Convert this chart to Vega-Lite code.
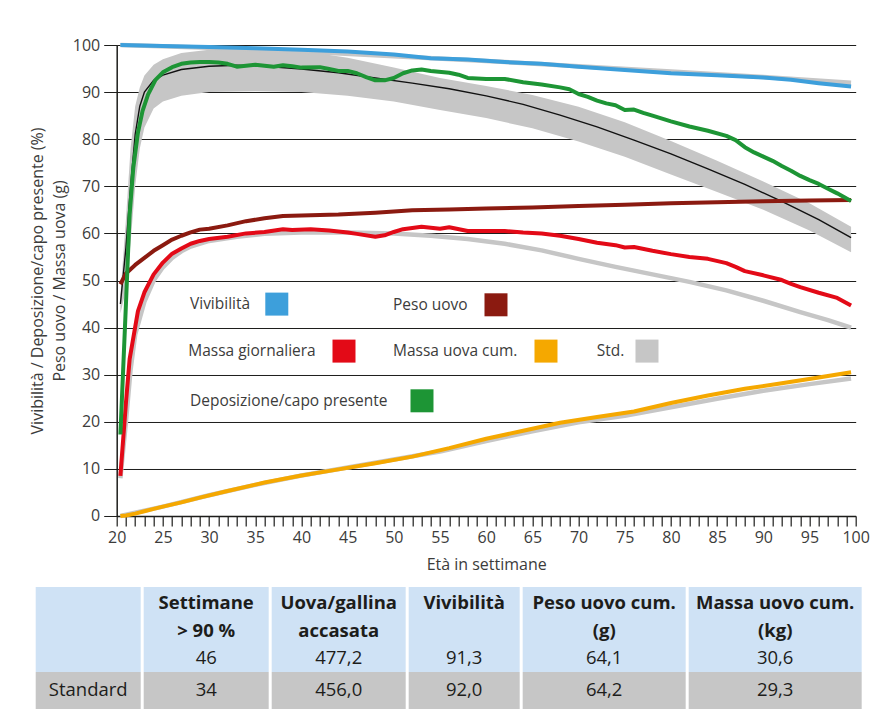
{
  "$schema": "https://vega.github.io/schema/vega-lite/v6.json",
  "background": "white",
  "padding": {"top": 37, "left": 28.7, "right": 5, "bottom": 5},
  "spacing": 14,
  "config": {
    "font": "Open Sans",
    "view": {"stroke": null},
    "axis": {"labelFont": "Open Sans", "titleFont": "Open Sans", "labelColor": "#3c3c3b", "titleColor": "#3c3c3b", "titleFontWeight": "normal", "labelFontSize": 16, "titleFontSize": 16},
    "axisX": {"grid": false, "tickSize": 10, "tickColor": "#1d1d1b", "tickWidth": 1.2, "domainColor": "#1d1d1b", "domainWidth": 1.5, "labelPadding": 4, "titlePadding": 11, "labelOverlap": false, "labelFlush": false, "labelBound": false, "tickCount": 100},
    "axisY": {"grid": true, "gridColor": "#1d1d1b", "gridWidth": 1, "tickSize": 13, "tickColor": "#1d1d1b", "domainColor": "#1d1d1b", "domainWidth": 1.5, "labelPadding": 4, "titlePadding": 5, "titleLineHeight": 22, "tickCount": 20, "labelOverlap": false},
    "legend": {"symbolType": "square", "symbolSize": 529, "symbolStrokeWidth": 0, "labelFont": "Open Sans", "labelFontSize": 15.5, "labelColor": "#3c3c3b", "labelLimit": 400, "padding": 0},
    "text": {"font": "Open Sans", "color": "#1d1d1b", "fontSize": 18.5}
  },
  "datasets": {
    "banda": [
      {"settimana": 20.4, "inferiore": 43, "superiore": 47},
      {"settimana": 21, "inferiore": 48, "superiore": 63},
      {"settimana": 21.5, "inferiore": 58, "superiore": 78},
      {"settimana": 22, "inferiore": 70, "superiore": 87},
      {"settimana": 22.5, "inferiore": 78, "superiore": 91},
      {"settimana": 23, "inferiore": 82.5, "superiore": 93.5},
      {"settimana": 24, "inferiore": 86.5, "superiore": 95.8},
      {"settimana": 25, "inferiore": 88, "superiore": 97},
      {"settimana": 27, "inferiore": 89.2, "superiore": 98.3},
      {"settimana": 30, "inferiore": 90, "superiore": 99},
      {"settimana": 35, "inferiore": 90.2, "superiore": 99.3},
      {"settimana": 40, "inferiore": 90, "superiore": 98.8},
      {"settimana": 45, "inferiore": 89.2, "superiore": 97.3},
      {"settimana": 50, "inferiore": 88, "superiore": 95.2},
      {"settimana": 55, "inferiore": 86.2, "superiore": 93},
      {"settimana": 60, "inferiore": 84.5, "superiore": 91.3},
      {"settimana": 65, "inferiore": 82.3, "superiore": 89.4},
      {"settimana": 70, "inferiore": 79.5, "superiore": 86.9},
      {"settimana": 75, "inferiore": 76.3, "superiore": 83.6},
      {"settimana": 80, "inferiore": 72.5, "superiore": 79.6},
      {"settimana": 85, "inferiore": 68.8, "superiore": 75.4},
      {"settimana": 90, "inferiore": 65, "superiore": 71},
      {"settimana": 95, "inferiore": 60.6, "superiore": 66.4},
      {"settimana": 99.5, "inferiore": 56, "superiore": 61.4}
    ],
    "serie": [
      {"serie": "Vivibilità", "settimana": 20.4, "valore": 100},
      {"serie": "Vivibilità", "settimana": 25, "valore": 99.8},
      {"serie": "Vivibilità", "settimana": 30, "valore": 99.6},
      {"serie": "Vivibilità", "settimana": 35, "valore": 99.3},
      {"serie": "Vivibilità", "settimana": 40, "valore": 99.0},
      {"serie": "Vivibilità", "settimana": 45, "valore": 98.6},
      {"serie": "Vivibilità", "settimana": 50, "valore": 98.0},
      {"serie": "Vivibilità", "settimana": 54, "valore": 97.2},
      {"serie": "Vivibilità", "settimana": 58, "valore": 96.9},
      {"serie": "Vivibilità", "settimana": 62, "valore": 96.4},
      {"serie": "Vivibilità", "settimana": 66, "valore": 96.0},
      {"serie": "Vivibilità", "settimana": 70, "valore": 95.4},
      {"serie": "Vivibilità", "settimana": 75, "valore": 94.7},
      {"serie": "Vivibilità", "settimana": 80, "valore": 94.0},
      {"serie": "Vivibilità", "settimana": 85, "valore": 93.6},
      {"serie": "Vivibilità", "settimana": 90, "valore": 93.1},
      {"serie": "Vivibilità", "settimana": 93, "valore": 92.6},
      {"serie": "Vivibilità", "settimana": 96, "valore": 91.9},
      {"serie": "Vivibilità", "settimana": 99.5, "valore": 91.2},

      {"serie": "Vivibilità std", "settimana": 20.4, "valore": 100},
      {"serie": "Vivibilità std", "settimana": 30, "valore": 99.4},
      {"serie": "Vivibilità std", "settimana": 40, "valore": 98.6},
      {"serie": "Vivibilità std", "settimana": 50, "valore": 97.6},
      {"serie": "Vivibilità std", "settimana": 60, "valore": 96.6},
      {"serie": "Vivibilità std", "settimana": 70, "valore": 95.5},
      {"serie": "Vivibilità std", "settimana": 80, "valore": 94.4},
      {"serie": "Vivibilità std", "settimana": 90, "valore": 93.2},
      {"serie": "Vivibilità std", "settimana": 99.5, "valore": 92.0},

      {"serie": "Deposizione", "settimana": 20.4, "valore": 17.3},
      {"serie": "Deposizione", "settimana": 21, "valore": 45},
      {"serie": "Deposizione", "settimana": 21.4, "valore": 64},
      {"serie": "Deposizione", "settimana": 21.8, "valore": 74},
      {"serie": "Deposizione", "settimana": 22.3, "valore": 81.4},
      {"serie": "Deposizione", "settimana": 22.8, "valore": 86},
      {"serie": "Deposizione", "settimana": 23.4, "valore": 89.5},
      {"serie": "Deposizione", "settimana": 24.2, "valore": 92.6},
      {"serie": "Deposizione", "settimana": 25, "valore": 94.2},
      {"serie": "Deposizione", "settimana": 26, "valore": 95.3},
      {"serie": "Deposizione", "settimana": 27, "valore": 96.0},
      {"serie": "Deposizione", "settimana": 28, "valore": 96.3},
      {"serie": "Deposizione", "settimana": 29, "valore": 96.4},
      {"serie": "Deposizione", "settimana": 30, "valore": 96.4},
      {"serie": "Deposizione", "settimana": 31, "valore": 96.3},
      {"serie": "Deposizione", "settimana": 32, "valore": 96.0},
      {"serie": "Deposizione", "settimana": 33, "valore": 95.4},
      {"serie": "Deposizione", "settimana": 34, "valore": 95.6},
      {"serie": "Deposizione", "settimana": 35, "valore": 95.8},
      {"serie": "Deposizione", "settimana": 36, "valore": 95.6},
      {"serie": "Deposizione", "settimana": 37, "valore": 95.4},
      {"serie": "Deposizione", "settimana": 38, "valore": 95.7},
      {"serie": "Deposizione", "settimana": 39, "valore": 95.5},
      {"serie": "Deposizione", "settimana": 40, "valore": 95.2},
      {"serie": "Deposizione", "settimana": 42, "valore": 95.3},
      {"serie": "Deposizione", "settimana": 43, "valore": 94.9},
      {"serie": "Deposizione", "settimana": 44, "valore": 94.5},
      {"serie": "Deposizione", "settimana": 45, "valore": 94.5},
      {"serie": "Deposizione", "settimana": 46, "valore": 94.0},
      {"serie": "Deposizione", "settimana": 47, "valore": 93.2},
      {"serie": "Deposizione", "settimana": 48, "valore": 92.5},
      {"serie": "Deposizione", "settimana": 49, "valore": 92.5},
      {"serie": "Deposizione", "settimana": 50, "valore": 93.0},
      {"serie": "Deposizione", "settimana": 51, "valore": 94.0},
      {"serie": "Deposizione", "settimana": 52, "valore": 94.6},
      {"serie": "Deposizione", "settimana": 53, "valore": 94.8},
      {"serie": "Deposizione", "settimana": 54, "valore": 94.5},
      {"serie": "Deposizione", "settimana": 56, "valore": 94.1},
      {"serie": "Deposizione", "settimana": 57, "valore": 93.7},
      {"serie": "Deposizione", "settimana": 58, "valore": 93.0},
      {"serie": "Deposizione", "settimana": 60, "valore": 92.8},
      {"serie": "Deposizione", "settimana": 62, "valore": 92.8},
      {"serie": "Deposizione", "settimana": 64, "valore": 92.1},
      {"serie": "Deposizione", "settimana": 66, "valore": 91.6},
      {"serie": "Deposizione", "settimana": 68, "valore": 91.0},
      {"serie": "Deposizione", "settimana": 69, "valore": 90.6},
      {"serie": "Deposizione", "settimana": 70, "valore": 89.6},
      {"serie": "Deposizione", "settimana": 71, "valore": 89.0},
      {"serie": "Deposizione", "settimana": 72, "valore": 88.2},
      {"serie": "Deposizione", "settimana": 73, "valore": 87.6},
      {"serie": "Deposizione", "settimana": 74, "valore": 87.2},
      {"serie": "Deposizione", "settimana": 75, "valore": 86.2},
      {"serie": "Deposizione", "settimana": 76, "valore": 86.3},
      {"serie": "Deposizione", "settimana": 77, "valore": 85.6},
      {"serie": "Deposizione", "settimana": 78, "valore": 85.0},
      {"serie": "Deposizione", "settimana": 80, "valore": 83.8},
      {"serie": "Deposizione", "settimana": 82, "valore": 82.7},
      {"serie": "Deposizione", "settimana": 84, "valore": 81.8},
      {"serie": "Deposizione", "settimana": 86, "valore": 80.7},
      {"serie": "Deposizione", "settimana": 87, "valore": 79.8},
      {"serie": "Deposizione", "settimana": 88, "valore": 78.3},
      {"serie": "Deposizione", "settimana": 89, "valore": 77.2},
      {"serie": "Deposizione", "settimana": 90, "valore": 76.3},
      {"serie": "Deposizione", "settimana": 91, "valore": 75.4},
      {"serie": "Deposizione", "settimana": 92, "valore": 74.3},
      {"serie": "Deposizione", "settimana": 93, "valore": 73.3},
      {"serie": "Deposizione", "settimana": 94, "valore": 72.2},
      {"serie": "Deposizione", "settimana": 95, "valore": 71.3},
      {"serie": "Deposizione", "settimana": 96, "valore": 70.5},
      {"serie": "Deposizione", "settimana": 97, "valore": 69.5},
      {"serie": "Deposizione", "settimana": 98, "valore": 68.5},
      {"serie": "Deposizione", "settimana": 99.5, "valore": 66.9},

      {"serie": "Deposizione std", "settimana": 20.4, "valore": 45},
      {"serie": "Deposizione std", "settimana": 21, "valore": 57},
      {"serie": "Deposizione std", "settimana": 21.5, "valore": 70},
      {"serie": "Deposizione std", "settimana": 22, "valore": 81},
      {"serie": "Deposizione std", "settimana": 22.5, "valore": 87},
      {"serie": "Deposizione std", "settimana": 23, "valore": 90},
      {"serie": "Deposizione std", "settimana": 24, "valore": 92.5},
      {"serie": "Deposizione std", "settimana": 25, "valore": 93.6},
      {"serie": "Deposizione std", "settimana": 27, "valore": 94.8},
      {"serie": "Deposizione std", "settimana": 30, "valore": 95.5},
      {"serie": "Deposizione std", "settimana": 33, "valore": 95.7},
      {"serie": "Deposizione std", "settimana": 36, "valore": 95.5},
      {"serie": "Deposizione std", "settimana": 40, "valore": 94.9},
      {"serie": "Deposizione std", "settimana": 44, "valore": 94.1},
      {"serie": "Deposizione std", "settimana": 48, "valore": 93.0},
      {"serie": "Deposizione std", "settimana": 52, "valore": 91.9},
      {"serie": "Deposizione std", "settimana": 56, "valore": 90.7},
      {"serie": "Deposizione std", "settimana": 60, "valore": 89.2},
      {"serie": "Deposizione std", "settimana": 64, "valore": 87.4},
      {"serie": "Deposizione std", "settimana": 68, "valore": 85.1},
      {"serie": "Deposizione std", "settimana": 72, "valore": 82.6},
      {"serie": "Deposizione std", "settimana": 76, "valore": 79.8},
      {"serie": "Deposizione std", "settimana": 80, "valore": 76.9},
      {"serie": "Deposizione std", "settimana": 84, "valore": 73.7},
      {"serie": "Deposizione std", "settimana": 88, "valore": 70.4},
      {"serie": "Deposizione std", "settimana": 92, "valore": 66.8},
      {"serie": "Deposizione std", "settimana": 96, "valore": 62.9},
      {"serie": "Deposizione std", "settimana": 99.5, "valore": 59.1},

      {"serie": "Peso uovo", "settimana": 20.4, "valore": 49.2},
      {"serie": "Peso uovo", "settimana": 21, "valore": 51.5},
      {"serie": "Peso uovo", "settimana": 22, "valore": 53.3},
      {"serie": "Peso uovo", "settimana": 23, "valore": 54.8},
      {"serie": "Peso uovo", "settimana": 24, "valore": 56.3},
      {"serie": "Peso uovo", "settimana": 25, "valore": 57.5},
      {"serie": "Peso uovo", "settimana": 26, "valore": 58.7},
      {"serie": "Peso uovo", "settimana": 27, "valore": 59.5},
      {"serie": "Peso uovo", "settimana": 28, "valore": 60.2},
      {"serie": "Peso uovo", "settimana": 29, "valore": 60.8},
      {"serie": "Peso uovo", "settimana": 30, "valore": 61.0},
      {"serie": "Peso uovo", "settimana": 32, "valore": 61.7},
      {"serie": "Peso uovo", "settimana": 34, "valore": 62.6},
      {"serie": "Peso uovo", "settimana": 36, "valore": 63.2},
      {"serie": "Peso uovo", "settimana": 38, "valore": 63.7},
      {"serie": "Peso uovo", "settimana": 40, "valore": 63.8},
      {"serie": "Peso uovo", "settimana": 44, "valore": 64.0},
      {"serie": "Peso uovo", "settimana": 48, "valore": 64.4},
      {"serie": "Peso uovo", "settimana": 52, "valore": 64.9},
      {"serie": "Peso uovo", "settimana": 56, "valore": 65.1},
      {"serie": "Peso uovo", "settimana": 60, "valore": 65.3},
      {"serie": "Peso uovo", "settimana": 65, "valore": 65.5},
      {"serie": "Peso uovo", "settimana": 70, "valore": 65.8},
      {"serie": "Peso uovo", "settimana": 75, "valore": 66.1},
      {"serie": "Peso uovo", "settimana": 80, "valore": 66.4},
      {"serie": "Peso uovo", "settimana": 85, "valore": 66.6},
      {"serie": "Peso uovo", "settimana": 90, "valore": 66.8},
      {"serie": "Peso uovo", "settimana": 95, "valore": 67.0},
      {"serie": "Peso uovo", "settimana": 99.5, "valore": 67.1},

      {"serie": "Massa giornaliera", "settimana": 20.4, "valore": 8.5},
      {"serie": "Massa giornaliera", "settimana": 21, "valore": 24},
      {"serie": "Massa giornaliera", "settimana": 21.4, "valore": 33.3},
      {"serie": "Massa giornaliera", "settimana": 22.3, "valore": 43.5},
      {"serie": "Massa giornaliera", "settimana": 23, "valore": 47.5},
      {"serie": "Massa giornaliera", "settimana": 24, "valore": 51.3},
      {"serie": "Massa giornaliera", "settimana": 25, "valore": 53.8},
      {"serie": "Massa giornaliera", "settimana": 26, "valore": 55.7},
      {"serie": "Massa giornaliera", "settimana": 27, "valore": 56.8},
      {"serie": "Massa giornaliera", "settimana": 28, "valore": 57.8},
      {"serie": "Massa giornaliera", "settimana": 29, "valore": 58.4},
      {"serie": "Massa giornaliera", "settimana": 30, "valore": 58.8},
      {"serie": "Massa giornaliera", "settimana": 32, "valore": 59.3},
      {"serie": "Massa giornaliera", "settimana": 34, "valore": 60.0},
      {"serie": "Massa giornaliera", "settimana": 36, "valore": 60.3},
      {"serie": "Massa giornaliera", "settimana": 38, "valore": 60.9},
      {"serie": "Massa giornaliera", "settimana": 39, "valore": 60.7},
      {"serie": "Massa giornaliera", "settimana": 41, "valore": 60.9},
      {"serie": "Massa giornaliera", "settimana": 43, "valore": 60.6},
      {"serie": "Massa giornaliera", "settimana": 45, "valore": 60.2},
      {"serie": "Massa giornaliera", "settimana": 46, "valore": 59.9},
      {"serie": "Massa giornaliera", "settimana": 48, "valore": 59.3},
      {"serie": "Massa giornaliera", "settimana": 49, "valore": 59.6},
      {"serie": "Massa giornaliera", "settimana": 50, "valore": 60.3},
      {"serie": "Massa giornaliera", "settimana": 51, "valore": 60.9},
      {"serie": "Massa giornaliera", "settimana": 53, "valore": 61.4},
      {"serie": "Massa giornaliera", "settimana": 55, "valore": 61.0},
      {"serie": "Massa giornaliera", "settimana": 56, "valore": 61.3},
      {"serie": "Massa giornaliera", "settimana": 58, "valore": 60.5},
      {"serie": "Massa giornaliera", "settimana": 62, "valore": 60.5},
      {"serie": "Massa giornaliera", "settimana": 64, "valore": 60.2},
      {"serie": "Massa giornaliera", "settimana": 66, "valore": 60.0},
      {"serie": "Massa giornaliera", "settimana": 68, "valore": 59.5},
      {"serie": "Massa giornaliera", "settimana": 70, "valore": 58.8},
      {"serie": "Massa giornaliera", "settimana": 72, "valore": 58.0},
      {"serie": "Massa giornaliera", "settimana": 74, "valore": 57.5},
      {"serie": "Massa giornaliera", "settimana": 75, "valore": 57.0},
      {"serie": "Massa giornaliera", "settimana": 76, "valore": 57.1},
      {"serie": "Massa giornaliera", "settimana": 78, "valore": 56.3},
      {"serie": "Massa giornaliera", "settimana": 80, "valore": 55.6},
      {"serie": "Massa giornaliera", "settimana": 82, "valore": 55.0},
      {"serie": "Massa giornaliera", "settimana": 84, "valore": 54.6},
      {"serie": "Massa giornaliera", "settimana": 86, "valore": 53.7},
      {"serie": "Massa giornaliera", "settimana": 87, "valore": 52.9},
      {"serie": "Massa giornaliera", "settimana": 88, "valore": 52.0},
      {"serie": "Massa giornaliera", "settimana": 90, "valore": 51.1},
      {"serie": "Massa giornaliera", "settimana": 92, "valore": 50.1},
      {"serie": "Massa giornaliera", "settimana": 93, "valore": 49.3},
      {"serie": "Massa giornaliera", "settimana": 94, "valore": 48.6},
      {"serie": "Massa giornaliera", "settimana": 96, "valore": 47.4},
      {"serie": "Massa giornaliera", "settimana": 98, "valore": 46.3},
      {"serie": "Massa giornaliera", "settimana": 99.5, "valore": 44.7},

      {"serie": "Massa giornaliera std", "settimana": 20.4, "valore": 8},
      {"serie": "Massa giornaliera std", "settimana": 21, "valore": 20},
      {"serie": "Massa giornaliera std", "settimana": 21.5, "valore": 31},
      {"serie": "Massa giornaliera std", "settimana": 22, "valore": 38.5},
      {"serie": "Massa giornaliera std", "settimana": 23, "valore": 45.5},
      {"serie": "Massa giornaliera std", "settimana": 24, "valore": 50},
      {"serie": "Massa giornaliera std", "settimana": 25, "valore": 52.8},
      {"serie": "Massa giornaliera std", "settimana": 26, "valore": 54.8},
      {"serie": "Massa giornaliera std", "settimana": 27, "valore": 56.2},
      {"serie": "Massa giornaliera std", "settimana": 28, "valore": 57.2},
      {"serie": "Massa giornaliera std", "settimana": 30, "valore": 58.4},
      {"serie": "Massa giornaliera std", "settimana": 33, "valore": 59.3},
      {"serie": "Massa giornaliera std", "settimana": 36, "valore": 59.9},
      {"serie": "Massa giornaliera std", "settimana": 40, "valore": 60.2},
      {"serie": "Massa giornaliera std", "settimana": 45, "valore": 60.2},
      {"serie": "Massa giornaliera std", "settimana": 50, "valore": 60.0},
      {"serie": "Massa giornaliera std", "settimana": 54, "valore": 59.5},
      {"serie": "Massa giornaliera std", "settimana": 58, "valore": 58.8},
      {"serie": "Massa giornaliera std", "settimana": 62, "valore": 57.8},
      {"serie": "Massa giornaliera std", "settimana": 66, "valore": 56.4},
      {"serie": "Massa giornaliera std", "settimana": 70, "valore": 54.6},
      {"serie": "Massa giornaliera std", "settimana": 74, "valore": 52.9},
      {"serie": "Massa giornaliera std", "settimana": 78, "valore": 51.3},
      {"serie": "Massa giornaliera std", "settimana": 82, "valore": 49.7},
      {"serie": "Massa giornaliera std", "settimana": 86, "valore": 47.9},
      {"serie": "Massa giornaliera std", "settimana": 90, "valore": 45.7},
      {"serie": "Massa giornaliera std", "settimana": 94, "valore": 43.3},
      {"serie": "Massa giornaliera std", "settimana": 97, "valore": 41.6},
      {"serie": "Massa giornaliera std", "settimana": 99.5, "valore": 40.0},

      {"serie": "Massa uova cum.", "settimana": 20.4, "valore": 0},
      {"serie": "Massa uova cum.", "settimana": 21, "valore": 0.1},
      {"serie": "Massa uova cum.", "settimana": 22, "valore": 0.5},
      {"serie": "Massa uova cum.", "settimana": 23, "valore": 1.0},
      {"serie": "Massa uova cum.", "settimana": 24, "valore": 1.5},
      {"serie": "Massa uova cum.", "settimana": 25, "valore": 2.0},
      {"serie": "Massa uova cum.", "settimana": 27, "valore": 2.9},
      {"serie": "Massa uova cum.", "settimana": 29, "valore": 3.9},
      {"serie": "Massa uova cum.", "settimana": 32, "valore": 5.3},
      {"serie": "Massa uova cum.", "settimana": 36, "valore": 7.1},
      {"serie": "Massa uova cum.", "settimana": 40, "valore": 8.6},
      {"serie": "Massa uova cum.", "settimana": 44, "valore": 9.9},
      {"serie": "Massa uova cum.", "settimana": 48, "valore": 11.2},
      {"serie": "Massa uova cum.", "settimana": 52, "valore": 12.6},
      {"serie": "Massa uova cum.", "settimana": 56, "valore": 14.4},
      {"serie": "Massa uova cum.", "settimana": 60, "valore": 16.4},
      {"serie": "Massa uova cum.", "settimana": 64, "valore": 18.1},
      {"serie": "Massa uova cum.", "settimana": 68, "valore": 19.8},
      {"serie": "Massa uova cum.", "settimana": 72, "valore": 21.0},
      {"serie": "Massa uova cum.", "settimana": 76, "valore": 22.2},
      {"serie": "Massa uova cum.", "settimana": 80, "valore": 24.0},
      {"serie": "Massa uova cum.", "settimana": 84, "valore": 25.6},
      {"serie": "Massa uova cum.", "settimana": 88, "valore": 27.0},
      {"serie": "Massa uova cum.", "settimana": 92, "valore": 28.2},
      {"serie": "Massa uova cum.", "settimana": 96, "valore": 29.4},
      {"serie": "Massa uova cum.", "settimana": 99.5, "valore": 30.5},

      {"serie": "Massa uova cum. std", "settimana": 20.4, "valore": 0},
      {"serie": "Massa uova cum. std", "settimana": 25, "valore": 2.0},
      {"serie": "Massa uova cum. std", "settimana": 30, "valore": 4.4},
      {"serie": "Massa uova cum. std", "settimana": 35, "valore": 6.6},
      {"serie": "Massa uova cum. std", "settimana": 40, "valore": 8.6},
      {"serie": "Massa uova cum. std", "settimana": 45, "valore": 10.3},
      {"serie": "Massa uova cum. std", "settimana": 50, "valore": 12.0},
      {"serie": "Massa uova cum. std", "settimana": 55, "valore": 13.7},
      {"serie": "Massa uova cum. std", "settimana": 60, "valore": 15.9},
      {"serie": "Massa uova cum. std", "settimana": 65, "valore": 18.0},
      {"serie": "Massa uova cum. std", "settimana": 70, "valore": 19.9},
      {"serie": "Massa uova cum. std", "settimana": 75, "valore": 21.3},
      {"serie": "Massa uova cum. std", "settimana": 80, "valore": 23.1},
      {"serie": "Massa uova cum. std", "settimana": 85, "valore": 24.9},
      {"serie": "Massa uova cum. std", "settimana": 90, "valore": 26.6},
      {"serie": "Massa uova cum. std", "settimana": 95, "valore": 28.0},
      {"serie": "Massa uova cum. std", "settimana": 99.5, "valore": 29.2}
    ],
    "tabella": [
      {"colonna": "c1", "riga": "r1", "testo": ""},
      {"colonna": "c1", "riga": "r4", "testo": "Standard"},
      {"colonna": "c2", "riga": "r1", "testo": "Settimane"},
      {"colonna": "c2", "riga": "r2", "testo": "> 90 %"},
      {"colonna": "c2", "riga": "r3", "testo": "46"},
      {"colonna": "c2", "riga": "r4", "testo": "34"},
      {"colonna": "c3", "riga": "r1", "testo": "Uova/gallina"},
      {"colonna": "c3", "riga": "r2", "testo": "accasata"},
      {"colonna": "c3", "riga": "r3", "testo": "477,2"},
      {"colonna": "c3", "riga": "r4", "testo": "456,0"},
      {"colonna": "c4", "riga": "r1", "testo": "Vivibilità"},
      {"colonna": "c4", "riga": "r3", "testo": "91,3"},
      {"colonna": "c4", "riga": "r4", "testo": "92,0"},
      {"colonna": "c5", "riga": "r1", "testo": "Peso uovo cum."},
      {"colonna": "c5", "riga": "r2", "testo": "(g)"},
      {"colonna": "c5", "riga": "r3", "testo": "64,1"},
      {"colonna": "c5", "riga": "r4", "testo": "64,2"},
      {"colonna": "c6", "riga": "r1", "testo": "Massa uovo cum."},
      {"colonna": "c6", "riga": "r2", "testo": "(kg)"},
      {"colonna": "c6", "riga": "r3", "testo": "30,6"},
      {"colonna": "c6", "riga": "r4", "testo": "29,3"}
    ]
  },
  "vconcat": [
    {
      "bounds": "flush",
      "spacing": 0,
      "hconcat": [
        {"width": 80.7, "height": 471, "data": {"name": "tabella"}, "transform": [{"filter": "false"}], "mark": {"type": "text"}, "encoding": {"text": {"field": "testo"}}},
        {
          "width": 739,
          "height": 471,
          "data": {"name": "serie"},
          "resolve": {"scale": {"color": "independent"}},
          "encoding": {
            "x": {"field": "settimana", "type": "quantitative", "scale": {"domain": [20, 100], "nice": false},
              "axis": {"title": "Età in settimane", "values": [20,21,22,23,24,25,26,27,28,29,30,31,32,33,34,35,36,37,38,39,40,41,42,43,44,45,46,47,48,49,50,51,52,53,54,55,56,57,58,59,60,61,62,63,64,65,66,67,68,69,70,71,72,73,74,75,76,77,78,79,80,81,82,83,84,85,86,87,88,89,90,91,92,93,94,95,96,97,98,99,100],
                "labelExpr": "datum.value % 5 === 0 ? datum.label : ''", "format": "d", "labelOverlap": false, "labelFlush": false, "labelBound": false, "grid": false, "tickSize": 10, "tickCount": 100}},
            "y": {"field": "valore", "type": "quantitative", "scale": {"domain": [0, 100], "nice": false},
              "axis": {"title": ["Vivibilità / Deposizione/capo presente (%)", "Peso uovo / Massa uova (g)"], "values": [0,10,20,30,40,50,60,70,80,90,100], "grid": true, "tickSize": 13, "tickCount": 20, "labelOverlap": false}}
          },
          "layer": [
            {
              "data": {"name": "banda"},
              "mark": {"type": "area", "color": "#c6c6c6", "opacity": 1},
              "encoding": {
                "y": {"field": "inferiore", "type": "quantitative", "scale": {"domain": [0, 100], "nice": false},
                  "axis": {"title": ["Vivibilità / Deposizione/capo presente (%)", "Peso uovo / Massa uova (g)"], "values": [0,10,20,30,40,50,60,70,80,90,100], "grid": true, "tickSize": 13, "tickCount": 20, "labelOverlap": false}},
                "y2": {"field": "superiore"}
              }
            },
            {
              "transform": [{"filter": "datum.serie === 'Vivibilità std' || datum.serie === 'Massa giornaliera std' || datum.serie === 'Massa uova cum. std'"}],
              "mark": {"type": "line", "strokeWidth": 4.5, "strokeJoin": "round"},
              "encoding": {
                "detail": {"field": "serie"},
                "color": {"datum": "Std.", "type": "nominal", "scale": {"range": ["#c6c6c6"]},
                  "legend": {"title": null, "orient": "none", "legendX": 480, "legendY": 294.6, "symbolOffset": 38.8, "labelOffset": -61.8, "encode": {"symbols": {"update": {"fill": {"value": "#c6c6c6"}, "fillOpacity": {"value": 1}}}}}}
              }
            },
            {
              "transform": [{"filter": "datum.serie === 'Deposizione std'"}],
              "mark": {"type": "line", "strokeWidth": 1.4, "color": "#111111"}
            },
            {
              "transform": [{"filter": "datum.serie === 'Massa uova cum.'"}],
              "mark": {"type": "line", "strokeWidth": 4, "strokeJoin": "round"},
              "encoding": {
                "color": {"datum": "Massa uova cum.", "type": "nominal", "scale": {"range": ["#f5a800"]},
                  "legend": {"title": null, "orient": "none", "legendX": 276.3, "legendY": 294.6, "symbolOffset": 141.5, "labelOffset": -164.5, "encode": {"symbols": {"update": {"fill": {"value": "#f5a800"}, "fillOpacity": {"value": 1}}}}}}
              }
            },
            {
              "transform": [{"filter": "datum.serie === 'Peso uovo'"}],
              "mark": {"type": "line", "strokeWidth": 4, "strokeJoin": "round"},
              "encoding": {
                "color": {"datum": "Peso uovo", "type": "nominal", "scale": {"range": ["#8b1a10"]},
                  "legend": {"title": null, "orient": "none", "legendX": 276.3, "legendY": 248.3, "symbolOffset": 91.5, "labelOffset": -114.5, "encode": {"symbols": {"update": {"fill": {"value": "#8b1a10"}, "fillOpacity": {"value": 1}}}}}}
              }
            },
            {
              "transform": [{"filter": "datum.serie === 'Massa giornaliera'"}],
              "mark": {"type": "line", "strokeWidth": 4, "strokeJoin": "round"},
              "encoding": {
                "color": {"datum": "Massa giornaliera", "type": "nominal", "scale": {"range": ["#e30a17"]},
                  "legend": {"title": null, "orient": "none", "legendX": 71.6, "legendY": 294.6, "symbolOffset": 144.2, "labelOffset": -167.2, "encode": {"symbols": {"update": {"fill": {"value": "#e30a17"}, "fillOpacity": {"value": 1}}}}}}
              }
            },
            {
              "transform": [{"filter": "datum.serie === 'Deposizione'"}],
              "mark": {"type": "line", "strokeWidth": 4, "strokeJoin": "round"},
              "encoding": {
                "color": {"datum": "Deposizione/capo presente", "type": "nominal", "scale": {"range": ["#1d9535"]},
                  "legend": {"title": null, "orient": "none", "legendX": 73.3, "legendY": 344.3, "symbolOffset": 220.5, "labelOffset": -243.5, "encode": {"symbols": {"update": {"fill": {"value": "#1d9535"}, "fillOpacity": {"value": 1}}}}}}
              }
            },
            {
              "transform": [{"filter": "datum.serie === 'Vivibilità'"}],
              "mark": {"type": "line", "strokeWidth": 4, "strokeJoin": "round"},
              "encoding": {
                "color": {"datum": "Vivibilità", "type": "nominal", "scale": {"range": ["#3d9fdb"]},
                  "legend": {"title": null, "orient": "none", "legendX": 73.3, "legendY": 247.6, "symbolOffset": 75.3, "labelOffset": -98.3, "encode": {"symbols": {"update": {"fill": {"value": "#3d9fdb"}, "fillOpacity": {"value": 1}}}}}}
              }
            }
          ]
        }
      ]
    },
    {
      "spacing": 0,
      "vconcat": [
        {
          "spacing": 3,
          "hconcat": [
            {"width": 105, "height": 85, "view": {"fill": "#cfe2f5", "stroke": null}, "data": {"name": "tabella"}, "transform": [{"filter": "datum.colonna === 'c1' && datum.riga !== 'r4'"}],
             "mark": {"type": "text", "fontWeight": "bold"}, "encoding": {"y": {"field": "riga", "type": "nominal", "scale": {"domain": ["r1", "r2", "r3"], "paddingInner": 0, "paddingOuter": 0}, "axis": null}, "text": {"field": "testo"}}},
            {"width": 125, "height": 85, "view": {"fill": "#cfe2f5", "stroke": null}, "data": {"name": "tabella"}, "transform": [{"filter": "datum.colonna === 'c2' && datum.riga !== 'r4'"}],
             "layer": [
               {"transform": [{"filter": "datum.riga !== 'r3'"}], "mark": {"type": "text", "fontWeight": "bold", "dy": 2}, "encoding": {"y": {"field": "riga", "type": "nominal", "scale": {"domain": ["r1", "r2", "r3"], "paddingInner": 0, "paddingOuter": 0}, "axis": null}, "text": {"field": "testo"}}},
               {"transform": [{"filter": "datum.riga === 'r3'"}], "mark": {"type": "text"}, "encoding": {"y": {"field": "riga", "type": "nominal", "scale": {"domain": ["r1", "r2", "r3"], "paddingInner": 0, "paddingOuter": 0}, "axis": null}, "text": {"field": "testo"}}}
             ]},
            {"width": 134, "height": 85, "view": {"fill": "#cfe2f5", "stroke": null}, "data": {"name": "tabella"}, "transform": [{"filter": "datum.colonna === 'c3' && datum.riga !== 'r4'"}],
             "layer": [
               {"transform": [{"filter": "datum.riga !== 'r3'"}], "mark": {"type": "text", "fontWeight": "bold", "dy": 2}, "encoding": {"y": {"field": "riga", "type": "nominal", "scale": {"domain": ["r1", "r2", "r3"], "paddingInner": 0, "paddingOuter": 0}, "axis": null}, "text": {"field": "testo"}}},
               {"transform": [{"filter": "datum.riga === 'r3'"}], "mark": {"type": "text"}, "encoding": {"y": {"field": "riga", "type": "nominal", "scale": {"domain": ["r1", "r2", "r3"], "paddingInner": 0, "paddingOuter": 0}, "axis": null}, "text": {"field": "testo"}}}
             ]},
            {"width": 111, "height": 85, "view": {"fill": "#cfe2f5", "stroke": null}, "data": {"name": "tabella"}, "transform": [{"filter": "datum.colonna === 'c4' && datum.riga !== 'r4'"}],
             "layer": [
               {"transform": [{"filter": "datum.riga !== 'r3'"}], "mark": {"type": "text", "fontWeight": "bold", "dy": 2}, "encoding": {"y": {"field": "riga", "type": "nominal", "scale": {"domain": ["r1", "r2", "r3"], "paddingInner": 0, "paddingOuter": 0}, "axis": null}, "text": {"field": "testo"}}},
               {"transform": [{"filter": "datum.riga === 'r3'"}], "mark": {"type": "text"}, "encoding": {"y": {"field": "riga", "type": "nominal", "scale": {"domain": ["r1", "r2", "r3"], "paddingInner": 0, "paddingOuter": 0}, "axis": null}, "text": {"field": "testo"}}}
             ]},
            {"width": 163, "height": 85, "view": {"fill": "#cfe2f5", "stroke": null}, "data": {"name": "tabella"}, "transform": [{"filter": "datum.colonna === 'c5' && datum.riga !== 'r4'"}],
             "layer": [
               {"transform": [{"filter": "datum.riga !== 'r3'"}], "mark": {"type": "text", "fontWeight": "bold", "dy": 2}, "encoding": {"y": {"field": "riga", "type": "nominal", "scale": {"domain": ["r1", "r2", "r3"], "paddingInner": 0, "paddingOuter": 0}, "axis": null}, "text": {"field": "testo"}}},
               {"transform": [{"filter": "datum.riga === 'r3'"}], "mark": {"type": "text"}, "encoding": {"y": {"field": "riga", "type": "nominal", "scale": {"domain": ["r1", "r2", "r3"], "paddingInner": 0, "paddingOuter": 0}, "axis": null}, "text": {"field": "testo"}}}
             ]},
            {"width": 173, "height": 85, "view": {"fill": "#cfe2f5", "stroke": null}, "data": {"name": "tabella"}, "transform": [{"filter": "datum.colonna === 'c6' && datum.riga !== 'r4'"}],
             "layer": [
               {"transform": [{"filter": "datum.riga !== 'r3'"}], "mark": {"type": "text", "fontWeight": "bold", "dy": 2}, "encoding": {"y": {"field": "riga", "type": "nominal", "scale": {"domain": ["r1", "r2", "r3"], "paddingInner": 0, "paddingOuter": 0}, "axis": null}, "text": {"field": "testo"}}},
               {"transform": [{"filter": "datum.riga === 'r3'"}], "mark": {"type": "text"}, "encoding": {"y": {"field": "riga", "type": "nominal", "scale": {"domain": ["r1", "r2", "r3"], "paddingInner": 0, "paddingOuter": 0}, "axis": null}, "text": {"field": "testo"}}}
             ]}
          ]
        },
        {
          "spacing": 3,
          "hconcat": [
            {"width": 105, "height": 37, "view": {"fill": "#c6c6c6", "stroke": null}, "data": {"name": "tabella"}, "transform": [{"filter": "datum.colonna === 'c1' && datum.riga === 'r4'"}], "mark": {"type": "text"}, "encoding": {"text": {"field": "testo"}}},
            {"width": 125, "height": 37, "view": {"fill": "#c6c6c6", "stroke": null}, "data": {"name": "tabella"}, "transform": [{"filter": "datum.colonna === 'c2' && datum.riga === 'r4'"}], "mark": {"type": "text"}, "encoding": {"text": {"field": "testo"}}},
            {"width": 134, "height": 37, "view": {"fill": "#c6c6c6", "stroke": null}, "data": {"name": "tabella"}, "transform": [{"filter": "datum.colonna === 'c3' && datum.riga === 'r4'"}], "mark": {"type": "text"}, "encoding": {"text": {"field": "testo"}}},
            {"width": 111, "height": 37, "view": {"fill": "#c6c6c6", "stroke": null}, "data": {"name": "tabella"}, "transform": [{"filter": "datum.colonna === 'c4' && datum.riga === 'r4'"}], "mark": {"type": "text"}, "encoding": {"text": {"field": "testo"}}},
            {"width": 163, "height": 37, "view": {"fill": "#c6c6c6", "stroke": null}, "data": {"name": "tabella"}, "transform": [{"filter": "datum.colonna === 'c5' && datum.riga === 'r4'"}], "mark": {"type": "text"}, "encoding": {"text": {"field": "testo"}}},
            {"width": 173, "height": 37, "view": {"fill": "#c6c6c6", "stroke": null}, "data": {"name": "tabella"}, "transform": [{"filter": "datum.colonna === 'c6' && datum.riga === 'r4'"}], "mark": {"type": "text"}, "encoding": {"text": {"field": "testo"}}}
          ]
        }
      ]
    }
  ]
}
